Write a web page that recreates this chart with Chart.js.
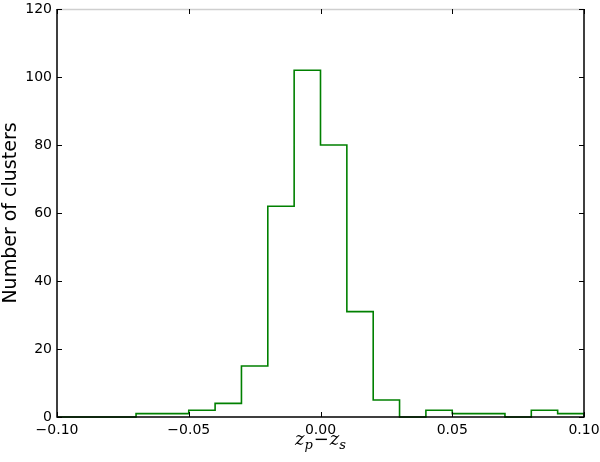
<!DOCTYPE html>
<html>
<head>
<meta charset="utf-8">
<script src="https://cdn.jsdelivr.net/npm/chart.js@4"></script>
<style>
html,body{margin:0;padding:0;background:#fff;}
#wrap{width:600px;height:462px;position:relative;}
</style>
</head>
<body>
<div id="wrap"><canvas id="c" width="600" height="462"></canvas></div>
<script>
// Histogram bin left edges (width 0.01) and counts
const binEdges = [-0.10,-0.09,-0.08,-0.07,-0.06,-0.05,-0.04,-0.03,-0.02,-0.01,0.00,0.01,0.02,0.03,0.04,0.05,0.06,0.07,0.08,0.09];
const counts   = [0,0,0,1,1,2,4,15,62,102,80,31,5,0,2,1,1,0,2,1];
const lastEdge = 0.10;
const xTicks = [-0.10,-0.05,0.00,0.05,0.10];
const yTicks = [0,20,40,60,80,100,120];
const yLabel = 'Number of clusters';

const points = binEdges.map((e,i)=>({x:e,y:counts[i]}));
points.push({x:lastEdge,y:counts[counts.length-1]});
points.push({x:lastEdge,y:0});

function fmtX(v){
  const s = Math.abs(v).toFixed(2);
  return (v < -1e-9 ? '\u2212' : '') + s;
}
function noPad(s){ s.paddingTop = 0; s.paddingBottom = 0; s.paddingLeft = 0; s.paddingRight = 0; }

const frame = {
  id:'frame',
  afterDraw(chart){
    const {ctx, chartArea:a, scales:{x,y}} = chart;
    ctx.save();
    // top border light gray
    ctx.strokeStyle = '#cfcfcf';
    ctx.lineWidth = 1.5;
    ctx.beginPath(); ctx.moveTo(a.left, a.top+0.5); ctx.lineTo(a.right, a.top+0.5); ctx.stroke();
    ctx.strokeStyle = '#000';
    ctx.lineWidth = 1.5;
    ctx.beginPath();
    ctx.moveTo(a.left, a.top); ctx.lineTo(a.left, a.bottom);
    ctx.lineTo(a.right, a.bottom); ctx.lineTo(a.right, a.top);
    ctx.stroke();
    // inward ticks
    ctx.lineWidth = 1;
    ctx.beginPath();
    xTicks.forEach(v=>{
      const px = Math.round(x.getPixelForValue(v))+0.5;
      ctx.moveTo(px,a.bottom); ctx.lineTo(px,a.bottom-5);
      ctx.moveTo(px,a.top); ctx.lineTo(px,a.top+5);
    });
    yTicks.forEach(v=>{
      const py = Math.round(y.getPixelForValue(v))+0.5;
      ctx.moveTo(a.left,py); ctx.lineTo(a.left+5,py);
      ctx.moveTo(a.right,py); ctx.lineTo(a.right-5,py);
    });
    ctx.stroke();
    // x axis label z_p − z_s
    ctx.fillStyle = '#000';
    ctx.textBaseline = 'alphabetic';
    const cx = (a.left + a.right)/2;
    const base = 445;
    const big = 'italic 18px "DejaVu Serif"';
    const small = 'italic 13px "DejaVu Serif"';
    const parts = [
      {t:'z', f:big, dy:0, g:0},
      {t:'p', f:small, dy:4, g:1},
      {t:'\u2212', f:'18px "DejaVu Serif"', dy:0, g:1},
      {t:'z', f:big, dy:0, g:0},
      {t:'s', f:small, dy:4, g:0}
    ];
    let total = 0;
    parts.forEach(p=>{ctx.font=p.f; p.w=ctx.measureText(p.t).width + p.g; total+=p.w;});
    let px = cx - total/2;
    parts.forEach(p=>{ctx.font=p.f; ctx.fillText(p.t, px, base+p.dy); px+=p.w;});
    ctx.restore();
  }
};

new Chart(document.getElementById('c'), {
  type:'line',
  data:{datasets:[{
    data:points,
    stepped:'before',
    borderColor:'#008000',
    borderWidth:1.6,
    pointRadius:0,
    fill:false,
    clip:false
  }]},
  options:{
    responsive:false,
    animation:false,
    events:[],
    layout:{padding:{top:9,right:16,left:0,bottom:0}},
    plugins:{legend:{display:false},tooltip:{enabled:false}},
    scales:{
      x:{
        type:'linear', min:-0.1, max:0.1,
        afterBuildTicks(s){ s.ticks = xTicks.map(v=>({value:v})); },
        afterFit(s){ s.height = 45; noPad(s); },
        grid:{display:false, drawTicks:false},
        border:{display:false},
        ticks:{
          callback:(v)=>fmtX(v),
          font:{family:'"DejaVu Sans"', size:14},
          color:'#000', padding:5, maxRotation:0, autoSkip:false
        }
      },
      y:{
        type:'linear', min:0, max:120,
        afterBuildTicks(s){ s.ticks = yTicks.map(v=>({value:v})); },
        afterFit(s){ s.width = 57; noPad(s); },
        grid:{display:false, drawTicks:false},
        border:{display:false},
        title:{display:true, text:yLabel, font:{family:'"DejaVu Sans"', size:19}, color:'#000', padding:{top:0,bottom:3}},
        ticks:{
          font:{family:'"DejaVu Sans"', size:14},
          color:'#000', padding:5, autoSkip:false
        }
      }
    }
  },
  plugins:[frame]
});
</script>
</body>
</html>
